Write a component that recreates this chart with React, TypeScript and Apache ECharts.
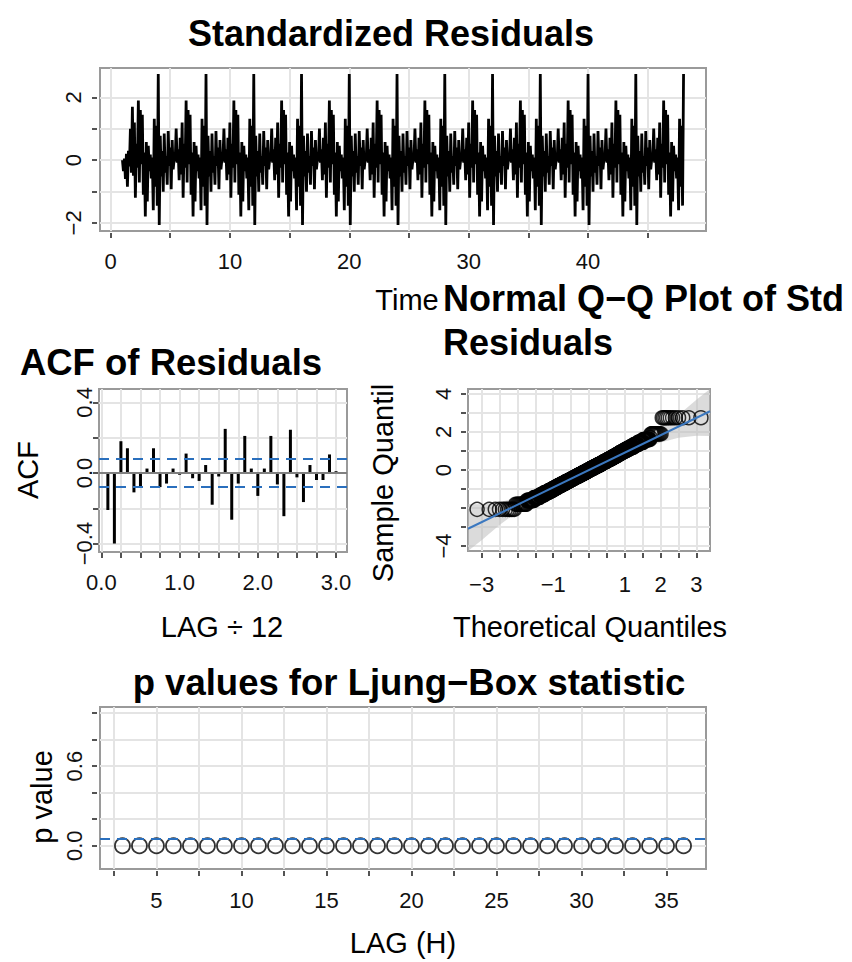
import React, { useEffect, useRef } from "react";
import * as echarts from "echarts";

// ---------- data ----------
// first year of standardized residuals (t = 1 .. 1 + 11/12)
const residStart = [0.0, -0.35, 0.05, -0.6, 0.2, -0.85, 0.3, -0.2, 1.0, -0.4, 1.7, -0.5];
// repeating 48-month pattern of the residuals (index 0 = month at t = 4, 8, ..., 48)
const residCycle = [
  2.75, -2.07, 0.78, -0.52, 0.29, -1.01, 0.85, -0.4, 0.13, -0.78, 0.93, -0.18,
  0.4, -0.93, 0.64, -0.29, 0.03, -0.03, 1.01, -0.08, 0.35, -0.64, 0.71, -0.46,
  1.2, -1.2, 0.52, -0.24, 1.9, -0.71, 1.6, -0.13, 1.45, -1.1, 0.24, -1.8,
  0.58, -1.32, 0.46, -0.35, 0.18, -0.58, 0.08, -1.6, 1.32, -0.85, 1.1, -1.45,
];
const residCount = 565; // t = 1 .. 48, frequency 12

const acfValues = [
  -0.21, -0.40, 0.18, 0.14, -0.11, -0.085, 0.025, 0.14, -0.08, -0.06, 0.025, -0.01,
  0.11, -0.03, -0.045, 0.045, -0.18, -0.02, 0.25, -0.265, -0.06, 0.21, 0.025, -0.13,
  0.025, 0.21, -0.065, -0.245, 0.245, -0.025, -0.165, 0.045, -0.04, -0.04, 0.105, 0.01,
];
const acfBound = 0.084;

const ljungLags = [3, 4, 5, 6, 7, 8, 9, 10, 11, 12, 13, 14, 15, 16, 17, 18, 19, 20, 21, 22, 23, 24, 25, 26, 27, 28, 29, 30, 31, 32, 33, 34, 35, 36];
const ljungPValues = [0, 0, 0, 0, 0, 0, 0, 0, 0, 0, 0, 0, 0, 0, 0, 0, 0, 0, 0, 0, 0, 0, 0, 0, 0, 0, 0, 0, 0, 0, 0, 0, 0, 0];
const ljungBound = 0.05;

const qqLineX = [-3.38, 3.38];
const qqLineY = [-3.09, 3.09];
const bandX = [-3.38, -3, -2.5, -2, -1.5, -1, -0.5, 0, 0.5, 1, 1.5, 2, 2.5, 3, 3.38];
const bandLower = [-4.26, -3.7, -2.89, -2.21, -1.62, -1.085, -0.59, -0.12, 0.33, 0.745, 1.12, 1.45, 1.69, 1.8, 1.79];
const bandUpper = [-1.79, -1.8, -1.69, -1.45, -1.12, -0.745, -0.33, 0.12, 0.59, 1.085, 1.62, 2.21, 2.89, 3.7, 4.26];

// tick / label values
const p1Ticks = [0, 5, 10, 15, 20, 25, 30, 35, 40, 45];
const p1Labels = [0, 10, 20, 30, 40];
const p1YTicks = [-2, -1, 0, 1, 2];
const p1YLabels = [-2, 0, 2];
const acfXTicks = [0, 0.25, 0.5, 0.75, 1, 1.25, 1.5, 1.75, 2, 2.25, 2.5, 2.75, 3];
const acfXLabels = [0, 1, 2, 3];
const acfYTicks = [-0.4, -0.2, 0, 0.2, 0.4];
const acfYLabels = [-0.4, 0, 0.4];
const qqXTicks = [-3, -2.5, -2, -1.5, -1, -0.5, 0, 0.5, 1, 1.5, 2, 2.5, 3];
const qqXLabels = [-3, -1, 1, 2, 3];
const qqYTicks = [-4, -3, -2, -1, 0, 1, 2, 3, 4];
const qqYLabels = [-4, 0, 2, 4];
const lbXTicks = [2.5, 5, 7.5, 10, 12.5, 15, 17.5, 20, 22.5, 25, 27.5, 30, 32.5, 35];
const lbXLabels = [5, 10, 15, 20, 25, 30, 35];
const lbYTicks = [0, 0.2, 0.4, 0.6, 0.8, 1.0];
const lbYLabels = [0, 0.6];

// ---------- helpers ----------
function qnorm(p: number): number {
  const a = [-3.969683028665376e1, 2.209460984245205e2, -2.759285104469687e2, 1.38357751867269e2, -3.066479806614716e1, 2.506628277459239];
  const b = [-5.447609879822406e1, 1.615858368580409e2, -1.556989798598866e2, 6.680131188771972e1, -1.328068155288572e1];
  const c = [-7.784894002430293e-3, -3.223964580411365e-1, -2.400758277161838, -2.549732539343734, 4.374664141464968, 2.938163982698783];
  const d = [7.784695709041462e-3, 3.224671290700398e-1, 2.445134137142996, 3.754408661907416];
  const pl = 0.02425;
  if (p < pl) {
    const q = Math.sqrt(-2 * Math.log(p));
    return (((((c[0] * q + c[1]) * q + c[2]) * q + c[3]) * q + c[4]) * q + c[5]) / ((((d[0] * q + d[1]) * q + d[2]) * q + d[3]) * q + 1);
  }
  if (p <= 1 - pl) {
    const q = p - 0.5;
    const r = q * q;
    return ((((((a[0] * r + a[1]) * r + a[2]) * r + a[3]) * r + a[4]) * r + a[5]) * q) / (((((b[0] * r + b[1]) * r + b[2]) * r + b[3]) * r + b[4]) * r + 1);
  }
  const q = Math.sqrt(-2 * Math.log(1 - p));
  return -(((((c[0] * q + c[1]) * q + c[2]) * q + c[3]) * q + c[4]) * q + c[5]) / ((((d[0] * q + d[1]) * q + d[2]) * q + d[3]) * q + 1);
}

const FONT = '"Liberation Sans", Arial, Helvetica, sans-serif';
const minusFmt = (digits: number) => (v: number) => {
  const s = Math.abs(v).toFixed(digits);
  return v < 0 ? "\u2212" + s : s;
};

function xAxisCfg(gridIndex: number, min: number, max: number, ticks: number[], labels: number[], digits: number, offset: number, margin: number) {
  return {
    type: "value",
    gridIndex,
    min,
    max,
    offset,
    axisLine: { show: false, onZero: false },
    axisTick: { show: true, customValues: ticks, length: 5, lineStyle: { color: "#1a1a1a", width: 1.5 } },
    axisLabel: { customValues: labels, formatter: minusFmt(digits), color: "#111", fontSize: 22, fontFamily: FONT, margin },
    splitLine: { show: true, lineStyle: { color: "#e4e4e4", width: 2 } },
  };
}
function yAxisCfg(gridIndex: number, min: number, max: number, ticks: number[], labels: number[], digits: number, offset: number, margin: number) {
  return {
    type: "value",
    gridIndex,
    min,
    max,
    offset,
    axisLine: { show: false, onZero: false },
    axisTick: { show: true, customValues: ticks, length: 5, lineStyle: { color: "#1a1a1a", width: 1.5 } },
    axisLabel: { customValues: labels, formatter: minusFmt(digits), color: "#111", fontSize: 22, fontFamily: FONT, margin, rotate: 90 },
    splitLine: { show: true, lineStyle: { color: "#e4e4e4", width: 2 } },
  };
}

function txt(text: string, x: number, y: number, size: number, bold: boolean, align = "center", rot = 0) {
  return {
    type: "text",
    x,
    y,
    rotation: rot,
    silent: true,
    z: 100,
    style: {
      text,
      fill: "#000",
      font: `${bold ? "bold " : ""}${size}px ${FONT}`,
      textAlign: align,
      textVerticalAlign: "middle",
    },
  };
}

export default function App() {
  const ref = useRef<HTMLDivElement>(null);
  useEffect(() => {
    document.body.style.margin = "0";
    if (!ref.current) return;
    const chart = echarts.init(ref.current, undefined, { renderer: "svg" });

    const resid: number[][] = [];
    for (let i = 0; i < residCount; i++) {
      const v = i < residStart.length ? residStart[i] : residCycle[(i + 12) % residCycle.length];
      resid.push([1 + i / 12, v]);
    }
    const sorted = resid.map((d) => d[1]).sort((a, b) => a - b);
    const n = sorted.length;
    const qq = sorted.map((v, i) => [qnorm((i + 0.5) / n), v]);
    const acf = acfValues.map((v, i) => [(i + 1) / 12, v]);
    const lb = ljungLags.map((l, i) => [l, ljungPValues[i]]);

    const dashed = { type: [10, 7], color: "#2a6fbd", width: 2 };

    const option: any = {
      animation: false,
      backgroundColor: "#fff",
      grid: [
        { left: 100, top: 68, width: 606, height: 163, show: true, borderColor: "#9a9a9a", borderWidth: 2 },
        { left: 99, top: 389, width: 248, height: 163, show: true, borderColor: "#9a9a9a", borderWidth: 2 },
        { left: 468, top: 389, width: 242, height: 162, show: true, borderColor: "#9a9a9a", borderWidth: 2 },
        { left: 100, top: 707, width: 606, height: 162, show: true, borderColor: "#9a9a9a", borderWidth: 2 },
      ],
      xAxis: [
        xAxisCfg(0, -0.88, 49.88, p1Ticks, p1Labels, 0, 2, 17),
        xAxisCfg(1, -0.03, 3.14, acfXTicks, acfXLabels, 1, 1, 18),
        xAxisCfg(2, -3.38, 3.38, qqXTicks, qqXLabels, 0, 2, 20),
        xAxisCfg(3, 1.68, 37.32, lbXTicks, lbXLabels, 0, 2, 18),
      ],
      yAxis: [
        yAxisCfg(0, -2.26, 2.94, p1YTicks, p1YLabels, 0, 3, 13),
        yAxisCfg(1, -0.448, 0.476, acfYTicks, acfYLabels, 1, 1, 3),
        yAxisCfg(2, -4.26, 4.26, qqYTicks, qqYLabels, 0, 2, 12),
        yAxisCfg(3, -0.175, 1.045, lbYTicks, lbYLabels, 1, 3, 12),
      ],
      series: [
        {
          type: "line",
          xAxisIndex: 0,
          yAxisIndex: 0,
          data: resid,
          showSymbol: false,
          symbol: "none",
          lineStyle: { color: "#000", width: 2.8 },
          silent: true,
        },
        {
          type: "bar",
          xAxisIndex: 1,
          yAxisIndex: 1,
          data: acf,
          barWidth: 3,
          itemStyle: { color: "#000" },
          silent: true,
          markLine: {
            silent: true,
            symbol: "none",
            label: { show: false },
            data: [
              { yAxis: 0, lineStyle: { type: "solid", color: "#808080", width: 2 } },
              { yAxis: acfBound, lineStyle: dashed },
              { yAxis: -acfBound, lineStyle: dashed },
            ],
          },
        },
        {
          type: "custom",
          xAxisIndex: 2,
          yAxisIndex: 2,
          data: [0],
          silent: true,
          z: 1,
          renderItem: (_params: any, api: any) => {
            const pts: number[][] = [];
            for (let i = 0; i < bandX.length; i++) pts.push(api.coord([bandX[i], bandUpper[i]]));
            for (let i = bandX.length - 1; i >= 0; i--) pts.push(api.coord([bandX[i], bandLower[i]]));
            return { type: "polygon", shape: { points: pts }, style: { fill: "rgba(190,190,190,0.55)" } };
          },
        },
        {
          type: "scatter",
          xAxisIndex: 2,
          yAxisIndex: 2,
          data: qq,
          symbol: "circle",
          symbolSize: 14,
          itemStyle: { color: "rgba(0,0,0,0)", borderColor: "#000", borderWidth: 1.5 },
          silent: true,
          z: 2,
        },
        {
          type: "line",
          xAxisIndex: 2,
          yAxisIndex: 2,
          data: qqLineX.map((x, i) => [x, qqLineY[i]]),
          showSymbol: false,
          symbol: "none",
          lineStyle: { color: "#3b78c0", width: 2 },
          silent: true,
          z: 3,
        },
        {
          type: "scatter",
          xAxisIndex: 3,
          yAxisIndex: 3,
          data: lb,
          symbol: "circle",
          symbolSize: 15,
          itemStyle: { color: "rgba(0,0,0,0)", borderColor: "#000", borderWidth: 1.8 },
          silent: true,
          markLine: {
            silent: true,
            symbol: "none",
            label: { show: false },
            data: [{ yAxis: ljungBound, lineStyle: dashed }],
          },
        },
      ],
      graphic: [
        txt("Standardized Residuals", 391, 33, 36, true),
        txt("Time", 407, 300, 29, false),
        txt("Normal Q\u2212Q Plot of Std", 443, 298, 36, true, "left"),
        txt("Residuals", 443, 342, 36, true, "left"),
        txt("ACF of Residuals", 171, 362, 36.5, true),
        txt("ACF", 28, 470, 29, false, "center", Math.PI / 2),
        txt("LAG \u00f7 12", 222, 627, 29, false),
        txt("Sample Quantil", 383, 483, 29, false, "center", Math.PI / 2),
        txt("Theoretical Quantiles", 590, 627, 29, false),
        txt("p values for Ljung\u2212Box statistic", 409, 682, 36.5, true),
        txt("p value", 42, 797, 29, false, "center", Math.PI / 2),
        txt("LAG (H)", 403, 943, 29, false),
      ],
    };
    chart.setOption(option);
    return () => chart.dispose();
  }, []);
  return <div ref={ref} style={{ position: "absolute", left: 0, top: 0, width: 852, height: 962 }} />;
}
